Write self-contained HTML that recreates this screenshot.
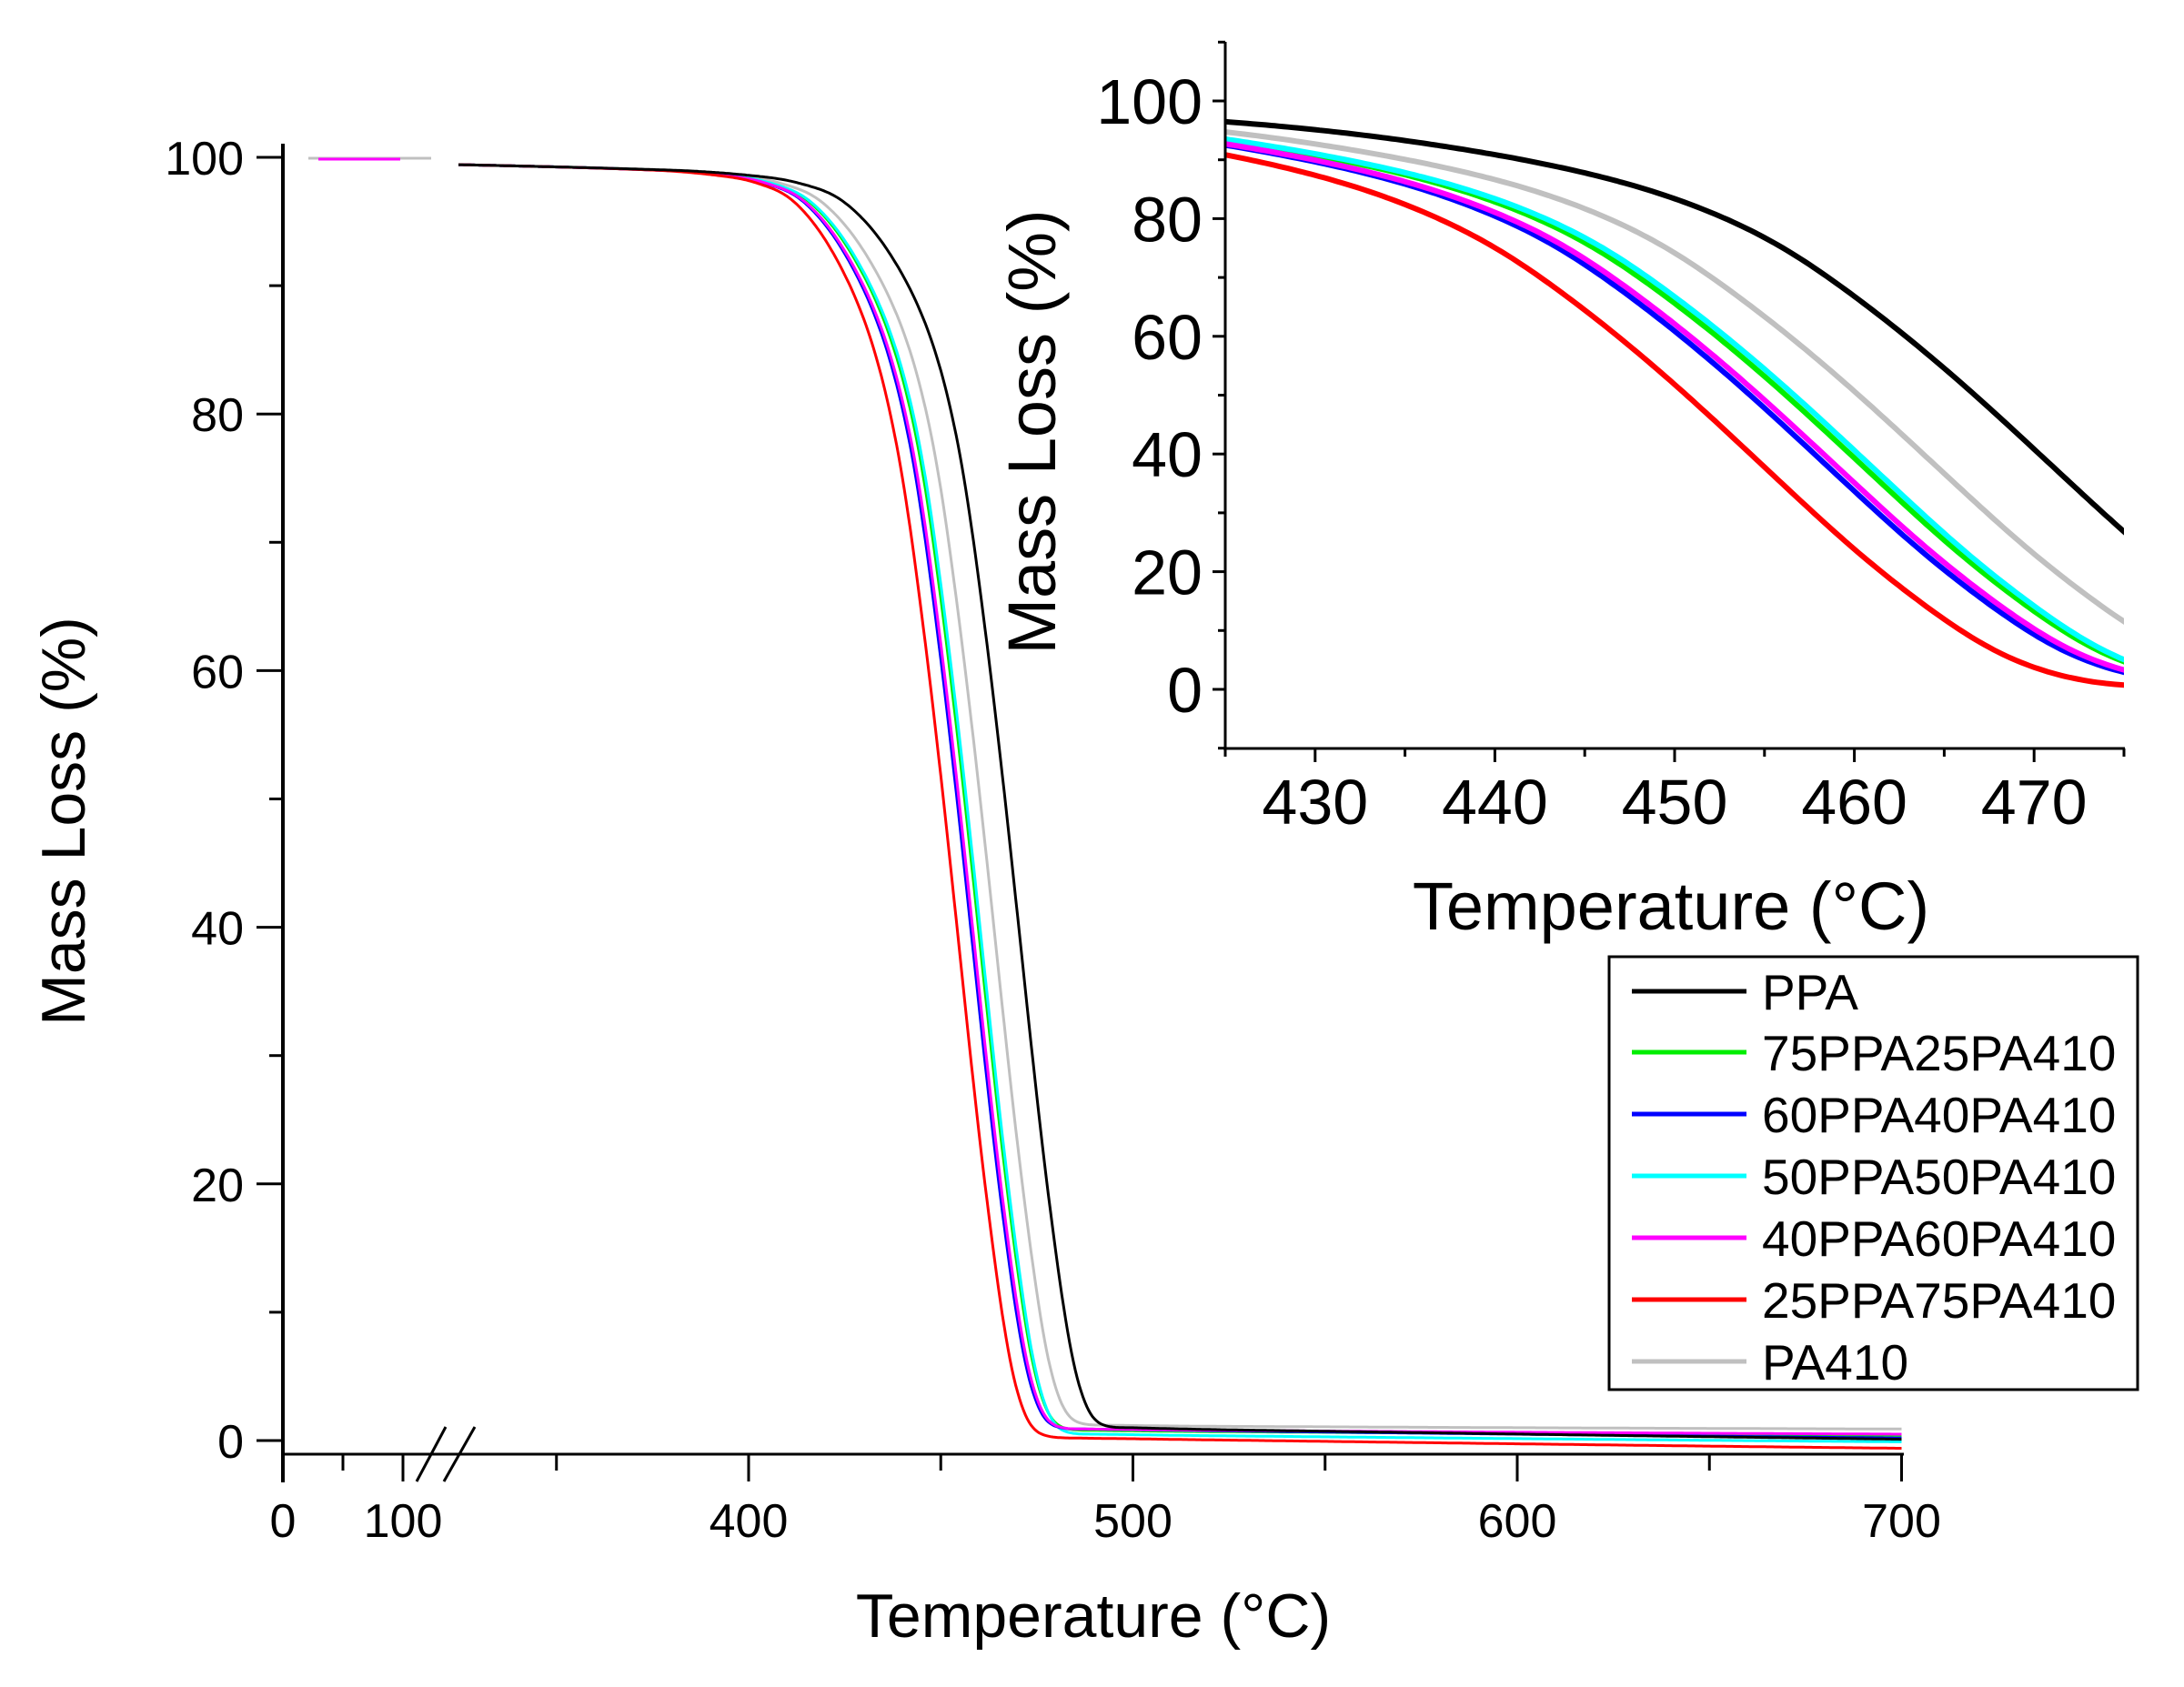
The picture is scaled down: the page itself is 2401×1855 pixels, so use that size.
<!DOCTYPE html>
<html><head><meta charset="utf-8">
<style>
html,body{margin:0;padding:0;background:#fff;}
svg{display:block;}
text{font-family:"Liberation Sans",Arial,sans-serif;fill:#000;}
</style></head>
<body>
<svg id="s" xmlns="http://www.w3.org/2000/svg" width="2401" height="1855" viewBox="0 0 2401 1855">
<rect width="2401" height="1855" fill="#fff"/>
<defs><clipPath id="ic"><rect x="1347" y="46" width="988" height="777"/></clipPath></defs>
<g id="main"></g>
<g id="inset"></g>
<rect x="1769" y="1052" width="581" height="476" fill="#fff" stroke="#000" stroke-width="3"/>
<g stroke-width="5">
<line x1="1794" y1="1090" x2="1920" y2="1090" stroke="#000"/>
<line x1="1794" y1="1157" x2="1920" y2="1157" stroke="#00ee00"/>
<line x1="1794" y1="1225" x2="1920" y2="1225" stroke="#0000ff"/>
<line x1="1794" y1="1293" x2="1920" y2="1293" stroke="#00ffff"/>
<line x1="1794" y1="1361" x2="1920" y2="1361" stroke="#ff00ff"/>
<line x1="1794" y1="1429" x2="1920" y2="1429" stroke="#ff0000"/>
<line x1="1794" y1="1497" x2="1920" y2="1497" stroke="#c0c0c0"/>
</g>
<g font-size="55">
<text x="1937" y="1110">PPA</text>
<text x="1937" y="1177">75PPA25PA410</text>
<text x="1937" y="1245">60PPA40PA410</text>
<text x="1937" y="1313">50PPA50PA410</text>
<text x="1937" y="1381">40PPA60PA410</text>
<text x="1937" y="1449">25PPA75PA410</text>
<text x="1937" y="1517">PA410</text>
</g>
</svg>
<script>
(function(){
var NS="http://www.w3.org/2000/svg";
function el(p,t,a,txt){var e=document.createElementNS(NS,t);for(var k in a)e.setAttribute(k,a[k]);if(txt!==undefined)e.textContent=txt;p.appendChild(e);return e;}
var tb=[[300,99.6],[380,99.0],[400,98.6],[413,98],[425,96.5],[437,92.4],[447.6,85.8],[455,77],[460.6,65.5],[466,52],[471.7,36],[476,24],[480.2,14],[484,6.5],[488.3,2.2],[492,1.2],[500,1.0],[550,0.9],[700,0.8],[800,0.8]];
function f0(T){
 if(T<=tb[0][0])return tb[0][1];
 for(var i=0;i<tb.length-1;i++){
  if(T<=tb[i+1][0]){
   var p0=tb[Math.max(i-1,0)],p1=tb[i],p2=tb[i+1],p3=tb[Math.min(i+2,tb.length-1)];
   var t=(T-p1[0])/(p2[0]-p1[0]);
   var h=p2[0]-p1[0];
   var m1=(p2[1]-p0[1])/(p2[0]-p0[0])*h, m2=(p3[1]-p1[1])/(p3[0]-p1[0])*h;
   var t2=t*t,t3=t2*t;
   return (2*t3-3*t2+1)*p1[1]+(t3-2*t2+t)*m1+(-2*t3+3*t2)*p2[1]+(t3-t2)*m2;
  }
 }
 return tb[tb.length-1][1];
}
function f(T){var s=0,w=0;for(var k=-4;k<=4;k+=0.5){var ww=Math.exp(-k*k/6);s+=ww*f0(T+k);w+=ww;}return s/w;}
var series=[
 {c:"#c0c0c0",s:6.5,r:1.2,r2:1.1},
 {c:"#00ee00",s:10.5,r:0.8,r2:0.6},
 {c:"#00ffff",s:10,r:0.5,r2:0.1},
 {c:"#0000ff",s:12.5,r:0.9,r2:0.4},
 {c:"#ff00ff",s:12,r:0.9,r2:0.7},
 {c:"#ff0000",s:16,r:0.2,r2:-0.4},
 {c:"#000000",s:0,r:1.0,r2:0.3}
];
function ss(a,b,x){var t=Math.min(1,Math.max(0,(x-a)/(b-a)));return t*t*(3-2*t);}
function val(sr,T){
 var w=ss(340,440,T);
 var v=f(T+sr.s*w);
 var res=sr.r+(sr.r2-sr.r)*Math.max(0,(T-500)/200);
 var blend=ss(440,485,T);
 return v-(1-res)*blend;
}
var M=document.getElementById("main");
function mx(T){return T<=100?311+1.32*T:823+(T-400)*4.225;}
function my(v){return 1584-v*14.11;}
series.forEach(function(sr){
 var d="";
 for(var T=324.5;T<=700;T+=0.5){var v=val(sr,T);d+=(d?"L":"M")+mx(T).toFixed(1)+" "+my(v).toFixed(1);}
 el(M,"path",{d:d,fill:"none",stroke:sr.c,"stroke-width":3});
});
el(M,"line",{x1:339,y1:174,x2:474,y2:174,stroke:"#c0c0c0","stroke-width":3});
el(M,"line",{x1:350,y1:175,x2:440,y2:175,stroke:"#ff00ff","stroke-width":3});
el(M,"line",{x1:311,y1:158,x2:311,y2:1630,stroke:"#000","stroke-width":4});
el(M,"line",{x1:311,y1:1599,x2:2093,y2:1599,stroke:"#000","stroke-width":3});
for(var v=0;v<=100;v+=10){var y=my(v);var maj=(v%20==0);
 el(M,"line",{x1:maj?282:296,y1:y,x2:311,y2:y,stroke:"#000","stroke-width":3});
 if(maj)el(M,"text",{x:268,y:y+19,"font-size":52,"text-anchor":"end"},String(v));}
[[0,1],[50,0],[100,1],[350,0],[400,1],[450,0],[500,1],[550,0],[600,1],[650,0],[700,1]].forEach(function(t){
 var x=mx(t[0]);el(M,"line",{x1:x,y1:1599,x2:x,y2:t[1]?1629:1617,stroke:"#000","stroke-width":3});
 if(t[1])el(M,"text",{x:x,y:1690,"font-size":52,"text-anchor":"middle"},String(t[0]));
});
el(M,"line",{x1:458,y1:1629,x2:490,y2:1569,stroke:"#000","stroke-width":3});
el(M,"line",{x1:488,y1:1629,x2:522,y2:1569,stroke:"#000","stroke-width":3});
el(M,"text",{x:1202,y:1800,"font-size":68,"text-anchor":"middle"},"Temperature (°C)");
el(M,"text",{x:0,y:0,"font-size":68,"text-anchor":"middle",transform:"translate(93,903) rotate(-90)"},"Mass Loss (%)");
var I=document.getElementById("inset");
function ix(T){return 1347+(T-425)*19.76;}
function iy(v){return 758-v*6.47;}
var g=el(I,"g",{"clip-path":"url(#ic)"});
series.forEach(function(sr){
 var d="";
 for(var T=424;T<=476;T+=0.25){d+=(d?"L":"M")+ix(T).toFixed(1)+" "+iy(val(sr,T)).toFixed(1);}
 el(g,"path",{d:d,fill:"none",stroke:sr.c,"stroke-width":6});
});
el(I,"line",{x1:1347,y1:46,x2:1347,y2:825,stroke:"#000","stroke-width":3});
el(I,"line",{x1:1345,y1:823,x2:2336,y2:823,stroke:"#000","stroke-width":3});
for(var v=-10;v<=110;v+=10){var y=iy(v);var maj=(v%20==0);
 el(I,"line",{x1:maj?1333:1339,y1:y,x2:1347,y2:y,stroke:"#000","stroke-width":3});
 if(maj&&v>=0&&v<=100)el(I,"text",{x:1322,y:y+25,"font-size":70,"text-anchor":"end"},String(v));}
for(var T=425;T<=475;T+=5){var x=ix(T);var maj=(T%10==0);
 el(I,"line",{x1:x,y1:823,x2:x,y2:maj?838:832,stroke:"#000","stroke-width":3});
 if(maj)el(I,"text",{x:x,y:906,"font-size":70,"text-anchor":"middle"},String(T));}
el(I,"text",{x:1837,y:1022,"font-size":74,"text-anchor":"middle"},"Temperature (°C)");
el(I,"text",{x:0,y:0,"font-size":74,"text-anchor":"middle",transform:"translate(1160,475) rotate(-90)"},"Mass Loss (%)");
})();
</script>
</body></html>
